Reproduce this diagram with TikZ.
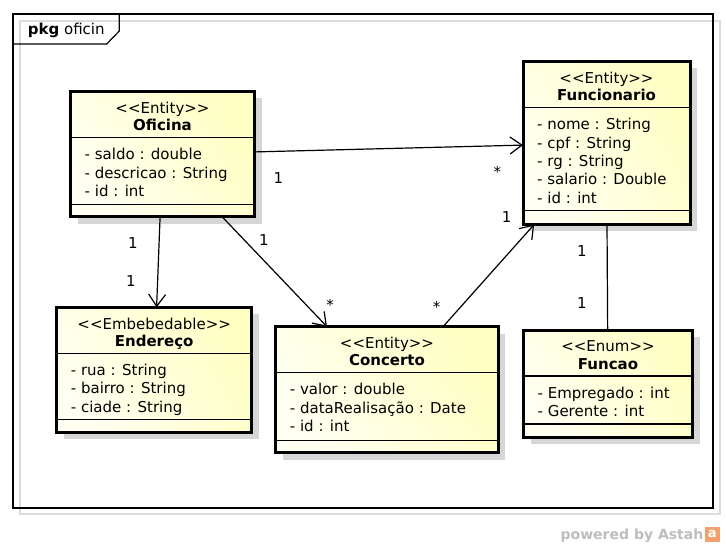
\documentclass[tikz,border=0pt]{standalone}
\usepackage{fontspec}
\setmainfont{DejaVu Sans}
\usetikzlibrary{positioning,shadows,arrows.meta}

\definecolor{boxlight}{HTML}{FFFFF2}
\definecolor{boxdark}{HTML}{FFFFC4}
\definecolor{shadowgray}{HTML}{D6D6D6}
\definecolor{framegray}{HTML}{DCDCDC}
\definecolor{markgray}{HTML}{BDBDBD}
\definecolor{astahorange}{HTML}{F4A06C}

\newcommand\umlfont{\fontsize{15}{18}\selectfont}
\newcommand\stereoL{<\kern0pt<}
\newcommand\stereoR{>\kern0pt>}

\begin{document}
\begin{tikzpicture}[x=1pt, y=-1pt,
    classbox/.style={rectangle, draw=black, line width=3pt, outer sep=0pt, anchor=north west,
        left color=boxlight, right color=boxdark, shading angle=120,
        drop shadow={shadow xshift=7pt, shadow yshift=-7pt, fill=shadowgray, opacity=1}},
    sepline/.style={line width=1.2pt},
    stereo/.style={font=\umlfont, inner sep=0pt, anchor=base},
    clsname/.style={font=\bfseries\umlfont, inner sep=0pt, anchor=base},
    attr/.style={font=\umlfont, inner sep=0pt, text height=12pt, text depth=6pt, anchor=north west},
    mult/.style={font=\umlfont, inner sep=0pt, anchor=base},
    assoc/.style={line width=1.2pt, -{Straight Barb[length=12pt,width=17pt]}}]

    \useasboundingbox (0,0) rectangle (726,548);

    % frame
    \draw[line width=1.5pt, framegray] (20,21) rectangle (720,514);
    \draw[line width=1.5pt] (13,14) rectangle (713,508);
    \draw[line width=1.2pt] (13,44) -- (106.7,44) -- (119.3,31) -- (119.3,14);
    \node[font=\umlfont, inner sep=0pt, anchor=base west] (pkgname) at (27.7,35) {\textbf{pkg} oficin};

    % Oficina
    \node[classbox, minimum width=184pt, minimum height=125.5pt] (ofi) at (70.5,91.5) {};
    \draw[sepline] ([yshift=-46pt]ofi.north west) -- ([yshift=-46pt]ofi.north east);
    \draw[sepline] ([yshift=12.5pt]ofi.south west) -- ([yshift=12.5pt]ofi.south east);
    \node[stereo] (ofiS) at ([yshift=-22pt]ofi.north) {\stereoL Entity\stereoR};
    \node[clsname] (ofiN) at ([yshift=-39pt]ofi.north) {Oficina};
    \node[attr] (ofiA1) at ([xshift=14pt,yshift=-56pt]ofi.north west) {- saldo : double};
    \node[attr, below=0pt of ofiA1.south west, anchor=north west] (ofiA2) {- descricao : String};
    \node[attr, below=0pt of ofiA2.south west, anchor=north west] (ofiA3) {- id : int};

    % Funcionario
    \node[classbox, minimum width=167pt, minimum height=163pt] (fun) at (523,61.5) {};
    \draw[sepline] ([yshift=-46pt]fun.north west) -- ([yshift=-46pt]fun.north east);
    \draw[sepline] ([yshift=14pt]fun.south west) -- ([yshift=14pt]fun.south east);
    \node[stereo] (funS) at ([yshift=-22pt]fun.north) {\stereoL Entity\stereoR};
    \node[clsname] (funN) at ([yshift=-39pt]fun.north) {Funcionario};
    \node[attr] (funA1) at ([xshift=14pt,yshift=-56pt]fun.north west) {- nome : String};
    \node[attr, below=0pt of funA1.south west, anchor=north west] (funA2) {- cpf : String};
    \node[attr, below=0pt of funA2.south west, anchor=north west] (funA3) {- rg : String};
    \node[attr, below=0pt of funA3.south west, anchor=north west] (funA4) {- salario : Double};
    \node[attr, below=0pt of funA4.south west, anchor=north west] (funA5) {- id : int};

    % Endereco
    \node[classbox, minimum width=195pt, minimum height=125pt] (end) at (56.7,307.3) {};
    \draw[sepline] ([yshift=-46pt]end.north west) -- ([yshift=-46pt]end.north east);
    \draw[sepline] ([yshift=12.5pt]end.south west) -- ([yshift=12.5pt]end.south east);
    \node[stereo] (endS) at ([yshift=-22pt]end.north) {\stereoL Embebedable\stereoR};
    \node[clsname] (endN) at ([yshift=-39pt]end.north) {Endereço};
    \node[attr] (endA1) at ([xshift=14pt,yshift=-56pt]end.north west) {- rua : String};
    \node[attr, below=0pt of endA1.south west, anchor=north west] (endA2) {- bairro : String};
    \node[attr, below=0pt of endA2.south west, anchor=north west] (endA3) {- ciade : String};

    % Concerto
    \node[classbox, minimum width=222.6pt, minimum height=126pt] (con) at (275.7,326.7) {};
    \draw[sepline] ([yshift=-46pt]con.north west) -- ([yshift=-46pt]con.north east);
    \draw[sepline] ([yshift=12.5pt]con.south west) -- ([yshift=12.5pt]con.south east);
    \node[stereo] (conS) at ([yshift=-22pt]con.north) {\stereoL Entity\stereoR};
    \node[clsname] (conN) at ([yshift=-39pt]con.north) {Concerto};
    \node[attr] (conA1) at ([xshift=14pt,yshift=-56pt]con.north west) {- valor : double};
    \node[attr, below=0pt of conA1.south west, anchor=north west] (conA2) {- dataRealisação : Date};
    \node[attr, below=0pt of conA2.south west, anchor=north west] (conA3) {- id : int};

    % Funcao
    \node[classbox, minimum width=169pt, minimum height=107pt] (fnc) at (523.5,330) {};
    \draw[sepline] ([yshift=-46pt]fnc.north west) -- ([yshift=-46pt]fnc.north east);
    \draw[sepline] ([yshift=13pt]fnc.south west) -- ([yshift=13pt]fnc.south east);
    \node[stereo] (fncS) at ([yshift=-22pt]fnc.north) {\stereoL Enum\stereoR};
    \node[clsname] (fncN) at ([yshift=-39pt]fnc.north) {Funcao};
    \node[attr] (fncA1) at ([xshift=14pt,yshift=-56pt]fnc.north west) {- Empregado : int};
    \node[attr, below=0pt of fncA1.south west, anchor=north west] (fncA2) {- Gerente : int};

    % associations
    \draw[assoc] (ofi) -- (fun);
    \draw[assoc] (ofi) -- (end);
    \draw[assoc] (ofi) -- (con);
    \draw[assoc] (con) -- (fun);
    \draw[line width=1.2pt] (fun) -- (fnc);

    % multiplicities
    \node[mult] (m1) at (278.3,183.2) {1};
    \node[mult] (m2) at (497.3,178) {*};
    \node[mult] (m3) at (133,248.5) {1};
    \node[mult] (m4) at (131,286.5) {1};
    \node[mult] (m5) at (264,245.5) {1};
    \node[mult] (m6) at (330,311) {*};
    \node[mult] (m7) at (436.7,312.7) {*};
    \node[mult] (m8) at (506.7,222.8) {1};
    \node[mult] (m9) at (582,256.5) {1};
    \node[mult] (m10) at (582,308.5) {1};

    % footer
    \node[font=\bfseries\fontsize{14}{14}\selectfont, text=markgray, inner sep=0pt, anchor=base east] (powered) at (703.5,539) {powered by Astah};
    \node[fill=astahorange, text=white, font=\bfseries\fontsize{13}{13}\selectfont, minimum size=15pt, inner sep=0pt, anchor=north west] (logo) at (704.5,526.5) {a};

\end{tikzpicture}
\end{document}
